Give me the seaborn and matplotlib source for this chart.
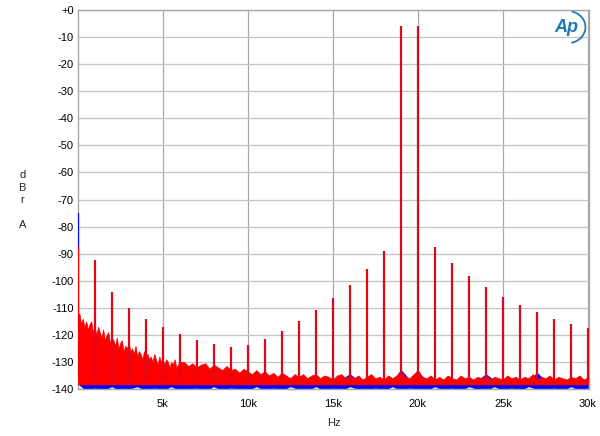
import numpy as np
import matplotlib
matplotlib.use("Agg")
import matplotlib.pyplot as plt
import seaborn as sns
from matplotlib.ticker import MultipleLocator, FixedLocator
from matplotlib.patches import Arc

# intermod products of the 19k + 20k tones (Hz, dBrA)
peak_freq = [1000, 2000, 3000, 4000, 5000, 6000, 7000, 8000, 9000, 10000,
             11000, 12000, 13000, 14000, 15000, 16000, 17000, 18000, 19000, 20000,
             21000, 22000, 23000, 24000, 25000, 26000, 27000, 28000, 29000, 30000]
red_peak = [-92.4, -104, -110, -114, -117, -119.5, -122, -123.4, -124.5, -123.7,
            -121.5, -118.6, -114.9, -110.8, -106.4, -101.6, -95.7, -89.0, -6, -6,
            -87.4, -93.3, -98.3, -102.4, -106, -109, -111.6, -114.2, -116, -117.5]

# low-frequency spike at the start of the sweep
dc_freq = 40
blue_dc = -75
red_dc = -87.5

# red noise floor, upper edge
red_freq = [20,
            100, 200, 300, 400, 500, 600, 700, 800, 900, 1000,
            1100, 1200, 1300, 1400, 1500, 1600, 1700, 1800, 1900, 2000,
            2100, 2200, 2300, 2400, 2500, 2600, 2700, 2800, 2900, 3000,
            3100, 3200, 3300, 3400, 3500, 3600, 3700, 3800, 3900, 4000,
            4100, 4200, 4300, 4400, 4500, 4600, 4700, 4800, 4900, 5000,
            5100, 5200, 5300, 5400, 5500, 5600, 5700, 5800, 5900, 6000,
            6250, 6500, 6750, 7000, 7250, 7500, 7750, 8000, 8250, 8500,
            8750, 9000, 9250, 9500, 9750, 10000, 10250, 10500, 10750, 11000,
            11250, 11500, 11750, 12000, 12250, 12500, 12750, 13000, 13250, 13500,
            13750, 14000, 14250, 14500, 14750, 15000, 15250, 15500, 15750, 16000,
            16250, 16500, 16750, 17000, 17250, 17500, 17750, 18000, 18250, 18500,
            18750, 19000, 19250, 19500, 19750, 20000, 20250, 20500, 20750, 21000,
            21250, 21500, 21750, 22000, 22250, 22500, 22750, 23000, 23250, 23500,
            23750, 24000, 24250, 24500, 24750, 25000, 25250, 25500, 25750, 26000,
            26250, 26500, 26750, 27000, 27250, 27500, 27750, 28000, 28250, 28500,
            28750, 29000, 29250, 29500, 29750, 30000]
red_hi = [-113,
          -112, -116, -114, -117, -115, -118, -116, -115, -119, -117,
          -120, -117, -119, -121, -118, -122, -120, -119, -123, -121,
          -122, -124, -121, -125, -123, -122, -126, -124, -125, -123,
          -126, -125, -127, -124, -128, -126, -127, -129, -126, -128,
          -127, -129, -128, -130, -127, -129, -131, -128, -130, -129,
          -131, -129, -130, -132, -130, -131, -129, -132, -131, -130,
          -130, -131.5, -130.5, -132, -131, -130.5, -132.5, -131, -132, -133,
          -131.5, -133, -132.5, -134, -132.5, -133.5, -134.5, -133, -134.5, -133.5,
          -135, -134, -135.5, -134, -135, -136, -134.5, -135.5, -134.5, -136,
          -135, -134.5, -136, -135, -135.5, -136.5, -135, -134.5, -136, -135,
          -136, -135, -136.5, -135.5, -134.5, -136, -135.5, -136.5, -135, -136,
          -135, -133.5, -135.5, -136, -134.5, -133, -135.5, -136, -135, -136.5,
          -135.5, -136.5, -135, -136, -136.5, -135, -136, -135.5, -136.5, -135.5,
          -136, -135, -136.5, -135.5, -136, -136.5, -135, -136, -135.5, -136.5,
          -135.5, -136, -134.5, -136.5, -135.5, -136, -135, -136.5, -135.5, -136,
          -136.5, -135.5, -136, -135, -136.5, -135.5]
red_floor = -138.3

# blue noise floor, mostly hidden under the red trace
blue_freq = [20,
             500, 1000, 1500, 2000, 2500, 3000, 3500, 4000, 4500, 5000,
             5500, 6000, 6500, 7000, 7500, 8000, 8500, 9000, 9500, 10000,
             10500, 11000, 11500, 12000, 12500, 13000, 13500, 14000, 14500, 15000,
             15500, 16000, 16500, 17000, 17500, 18000, 18500, 19000, 19500, 20000,
             20500, 21000, 21500, 22000, 22500, 23000, 23500, 24000, 24500, 25000,
             25500, 26000, 26500, 27000, 27500, 28000, 28500, 29000, 29500, 30000]
blue_hi = [-120,
           -122, -124, -126, -127, -128, -130, -131, -132, -133, -134,
           -134, -135, -135, -136, -135.5, -136, -136.5, -136, -136.5, -137,
           -136.5, -137, -136.5, -137, -136.5, -137, -136.5, -137, -136.5, -137,
           -136.5, -134.5, -137, -136.5, -137, -136.5, -137, -133, -136.5, -133.5,
           -137, -136.5, -137, -136.5, -137, -136.5, -137, -134.5, -137, -136.5,
           -137, -136.5, -137, -134, -137, -136.5, -137, -136.5, -137, -136.5]
blue_lo = [-138,
           -140.5, -139.5, -140.5, -139, -140.5, -140, -139, -140.5, -139.5, -140.5,
           -139, -140.5, -140, -139.5, -140.5, -139, -140.5, -139.5, -140, -140.5,
           -139, -140.5, -139.5, -140.5, -139, -140, -140.5, -139, -140.5, -139.5,
           -140.5, -139, -140, -140.5, -139.5, -140.5, -139, -140.5, -139.5, -140,
           -140.5, -139, -140.5, -139.5, -140.5, -139, -140, -140.5, -139, -140.5,
           -139.5, -140.5, -139, -140, -140.5, -139.5, -140.5, -139, -140.5, -139.5]

y_ticks = [0, -10, -20, -30, -40, -50, -60, -70, -80, -90, -100, -110, -120, -130, -140]
y_ticklabels = ["+0", "-10", "-20", "-30", "-40", "-50", "-60", "-70", "-80", "-90",
                "-100", "-110", "-120", "-130", "-140"]
x_ticks = [5000, 10000, 15000, 20000, 25000, 30000]
x_ticklabels = ["5k", "10k", "15k", "20k", "25k", "30k"]

sns.set_style("white")
plt.rcParams['font.family'] = ['Liberation Sans', 'DejaVu Sans']
plt.rcParams['font.size'] = 8

fig = plt.figure(figsize=(6, 4.36), dpi=100)
ax = fig.add_axes([0.13, 0.1078, 0.8517, 0.8692])

red = "#ff0000"
blue = "#0000ff"

# noise floor (blue under red)
ax.fill_between(blue_freq, blue_lo, blue_hi, color=blue, lw=0.5, zorder=2)
ax.fill_between(red_freq, red_floor, red_hi, color=red, lw=0.5, zorder=3)

# tones and intermod products
ax.vlines(peak_freq, -137, red_peak, colors="#8a2060", lw=1.6, zorder=4)
ax.vlines(peak_freq, -137, red_peak, colors=red, lw=1.1, zorder=5)
ax.vlines([dc_freq], -136, [blue_dc], colors=blue, lw=1.6, zorder=4)
ax.vlines([dc_freq], -136, [red_dc], colors=red, lw=1.6, zorder=5)

ax.set_xlim(20, 30060)
ax.set_ylim(-140, 0)

ax.yaxis.set_major_locator(FixedLocator(y_ticks))
ax.set_yticklabels(y_ticklabels)
ax.xaxis.set_major_locator(FixedLocator(x_ticks))
ax.set_xticklabels(x_ticklabels)
ax.yaxis.set_minor_locator(MultipleLocator(1))
ax.xaxis.set_minor_locator(MultipleLocator(500))

ax.tick_params(which="major", length=0, labelsize=8, colors="black")
ax.tick_params(axis="y", which="major", pad=3)
ax.tick_params(axis="x", which="major", pad=7)
ax.tick_params(which="minor", direction="in", length=4, color="#cfcfcf", width=0.8)

ax.grid(True, which="major", axis="y", color="#c4c4c4", lw=0.9, zorder=0)
ax.grid(True, which="major", axis="x", color="#a8a8a8", lw=0.9, zorder=0)
ax.set_axisbelow(True)
for s in ax.spines.values():
    s.set_color("#a8a8a8")
    s.set_linewidth(1.0)

ax.set_xlabel("Hz", fontsize=8, labelpad=7)
fig.text(0.037, 0.541, "d\nB\nr\n\nA", fontsize=8, ha="center", va="center",
         linespacing=1.3)

# Ap logo
ax.text(0.955, 0.955, "Ap", transform=ax.transAxes, fontsize=13, style="italic",
        color="#1f78b8", ha="center", va="center", fontweight="bold")
ax.add_patch(Arc((0.958, 0.955), 0.07, 0.085, theta1=-80, theta2=80,
                 transform=ax.transAxes, color="#1f78b8", lw=1.3))

fig.savefig("out.png", dpi=100)
